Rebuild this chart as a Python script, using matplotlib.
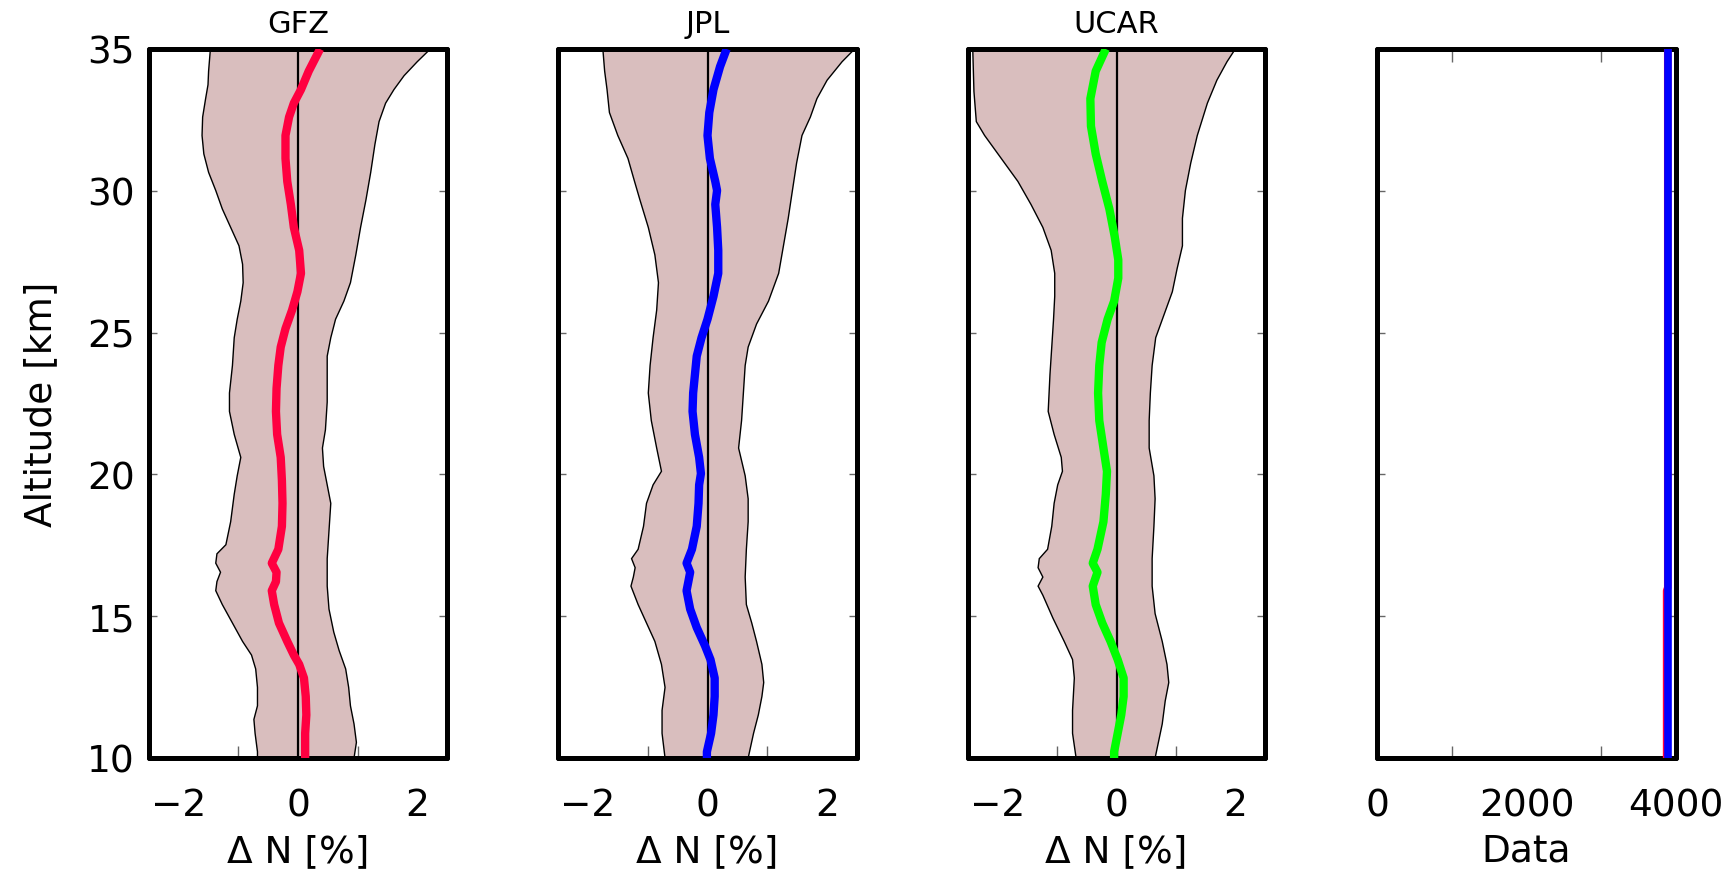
import matplotlib
matplotlib.use("Agg")
import matplotlib.pyplot as plt
import numpy as np

# ---------------- data ----------------
centers = ["GFZ", "JPL", "UCAR"]
line_colors = ["#FF0040", "#0000FF", "#00FF00"]

gfz_mean_alt = [35.0, 34.22, 33.57, 33.09, 32.60, 31.95, 31.14, 30.33, 29.52, 28.71, 27.90, 27.09, 26.44, 25.79,
                25.14, 24.49, 23.84, 23.03, 22.22, 21.41, 20.60, 19.79, 18.98, 18.17, 17.36, 16.87, 16.55, 16.22,
                15.90, 15.41, 14.76, 14.11, 13.63, 13.30, 12.82, 12.17, 11.52, 10.87, 10.22, 10.0]
gfz_mean = [0.37, 0.18, 0.05, -0.07, -0.15, -0.21, -0.21, -0.18, -0.12, -0.07, 0.02, 0.05, -0.01, -0.10,
            -0.21, -0.29, -0.33, -0.36, -0.37, -0.35, -0.29, -0.27, -0.26, -0.27, -0.33, -0.44, -0.36, -0.37,
            -0.44, -0.40, -0.32, -0.18, -0.07, 0.02, 0.10, 0.13, 0.14, 0.12, 0.12, 0.12]
gfz_low_alt = [35.0, 34.22, 33.74, 33.25, 32.60, 31.95, 31.30, 30.65, 30.01, 29.36, 28.71, 28.06, 27.41, 26.76,
               26.11, 25.47, 24.82, 23.84, 22.87, 22.22, 21.41, 20.60, 19.95, 19.30, 18.33, 17.52, 17.20, 16.87,
               16.55, 16.22, 15.90, 15.41, 14.76, 14.11, 13.63, 13.14, 12.49, 11.84, 11.36, 10.87, 10.22, 10.0]
gfz_low = [-1.47, -1.50, -1.51, -1.55, -1.60, -1.61, -1.58, -1.50, -1.38, -1.27, -1.13, -0.99, -0.93, -0.92,
           -0.96, -1.02, -1.07, -1.10, -1.15, -1.15, -1.07, -0.96, -1.02, -1.07, -1.13, -1.21, -1.36, -1.38,
           -1.30, -1.36, -1.38, -1.27, -1.10, -0.93, -0.78, -0.71, -0.68, -0.68, -0.74, -0.72, -0.68, -0.68]
gfz_up_alt = [35.0, 34.55, 34.06, 33.57, 33.09, 32.44, 31.63, 30.65, 29.68, 28.71, 27.74, 26.76, 26.11, 25.47,
              24.82, 24.17, 23.52, 22.55, 21.57, 20.93, 20.28, 19.63, 18.98, 18.01, 17.03, 16.06, 15.25, 14.44,
              13.79, 13.14, 12.49, 11.84, 11.20, 10.55, 10.0]
gfz_up = [2.22, 2.00, 1.78, 1.61, 1.47, 1.36, 1.29, 1.22, 1.14, 1.05, 0.97, 0.88, 0.77, 0.63,
          0.55, 0.49, 0.49, 0.49, 0.46, 0.41, 0.43, 0.49, 0.55, 0.52, 0.49, 0.49, 0.52, 0.60,
          0.69, 0.80, 0.85, 0.88, 0.94, 0.98, 0.94]

jpl_mean_alt = [35.0, 34.38, 33.57, 32.76, 31.95, 31.14, 30.33, 30.01, 29.52, 28.71, 27.90, 27.09, 26.28, 25.47,
                24.82, 24.17, 23.52, 22.87, 22.22, 21.41, 20.60, 20.03, 19.63, 18.98, 18.17, 17.36, 16.87, 16.55,
                16.22, 15.90, 15.25, 14.60, 13.95, 13.47, 12.82, 12.17, 11.52, 10.87, 10.22, 10.0]
jpl_mean = [0.32, 0.21, 0.10, 0.03, 0.0, 0.04, 0.13, 0.16, 0.13, 0.16, 0.18, 0.18, 0.10, 0.0,
            -0.10, -0.18, -0.21, -0.24, -0.25, -0.21, -0.14, -0.11, -0.14, -0.15, -0.18, -0.26, -0.35, -0.29,
            -0.32, -0.35, -0.29, -0.18, -0.04, 0.05, 0.12, 0.12, 0.10, 0.06, -0.01, -0.01]
jpl_low_alt = [35.0, 34.22, 33.57, 32.76, 31.95, 31.14, 30.33, 29.68, 28.71, 27.74, 26.76, 25.79, 24.82, 23.84,
               22.87, 21.90, 20.93, 20.11, 19.63, 18.98, 18.17, 17.36, 17.03, 16.71, 16.38, 16.06, 15.41, 14.76,
               14.11, 13.30, 12.49, 11.68, 10.87, 10.0]
jpl_low = [-1.75, -1.72, -1.68, -1.64, -1.50, -1.33, -1.22, -1.13, -0.99, -0.88, -0.82, -0.85, -0.91, -0.96,
           -0.99, -0.94, -0.85, -0.77, -0.91, -1.02, -1.07, -1.16, -1.27, -1.21, -1.24, -1.28, -1.16, -1.02,
           -0.88, -0.77, -0.71, -0.76, -0.76, -0.71]
jpl_up_alt = [35.0, 34.55, 33.90, 33.25, 32.60, 31.95, 30.98, 30.01, 29.03, 28.06, 27.09, 26.11, 25.30, 24.49,
              23.84, 22.87, 21.90, 20.93, 19.95, 19.14, 18.33, 17.36, 16.38, 15.41, 14.76, 14.11, 13.30, 12.66,
              12.17, 11.52, 10.87, 10.0]
jpl_up = [2.46, 2.25, 2.00, 1.83, 1.72, 1.58, 1.49, 1.42, 1.35, 1.27, 1.19, 1.02, 0.82, 0.68,
          0.63, 0.60, 0.57, 0.52, 0.63, 0.68, 0.68, 0.65, 0.63, 0.65, 0.74, 0.82, 0.91, 0.94,
          0.91, 0.85, 0.77, 0.68]

ucar_mean_alt = [35.0, 34.22, 33.25, 32.28, 31.30, 30.33, 29.36, 28.38, 27.57, 26.92, 26.11, 25.47, 24.65, 23.84,
                 22.87, 21.90, 20.93, 20.11, 19.30, 18.33, 17.36, 16.87, 16.55, 16.06, 15.41, 14.76, 14.11, 13.47,
                 12.82, 12.17, 11.52, 10.87, 10.22, 10.0]
ucar_mean = [-0.18, -0.35, -0.44, -0.43, -0.35, -0.24, -0.12, -0.03, 0.03, 0.03, -0.04, -0.15, -0.25, -0.29,
             -0.31, -0.29, -0.22, -0.16, -0.18, -0.22, -0.32, -0.40, -0.32, -0.40, -0.35, -0.24, -0.10, 0.02,
             0.12, 0.12, 0.08, 0.02, -0.04, -0.04]
ucar_low_alt = [35.0, 33.5, 32.44, 31.95, 31.14, 30.33, 29.52, 28.71, 27.90, 27.09, 26.28, 25.47, 24.49, 23.52,
                22.22, 21.41, 20.60, 20.11, 19.63, 18.98, 18.17, 17.36, 17.03, 16.71, 16.38, 16.06, 15.74, 14.93,
                14.11, 13.47, 12.82, 11.68, 10.87, 10.0]
ucar_low = [-2.42, -2.40, -2.36, -2.22, -1.94, -1.66, -1.44, -1.24, -1.10, -1.04, -1.04, -1.06, -1.09, -1.12,
            -1.15, -1.05, -0.93, -0.91, -0.99, -1.05, -1.09, -1.16, -1.30, -1.32, -1.24, -1.32, -1.24, -1.07,
            -0.88, -0.74, -0.71, -0.74, -0.74, -0.68]
ucar_up_alt = [35.0, 34.55, 33.90, 33.09, 31.95, 30.98, 30.01, 29.03, 28.06, 27.25, 26.44, 25.63, 24.82, 23.84,
               22.87, 21.90, 20.93, 19.95, 19.14, 18.17, 17.03, 16.06, 15.09, 14.11, 13.30, 12.66, 12.01, 11.20, 10.0]
ucar_up = [2.00, 1.86, 1.69, 1.53, 1.36, 1.25, 1.16, 1.11, 1.11, 1.02, 0.94, 0.80, 0.66, 0.60,
           0.57, 0.55, 0.55, 0.63, 0.65, 0.63, 0.60, 0.60, 0.65, 0.77, 0.85, 0.88, 0.82, 0.77, 0.65]

# number of data per altitude (4th panel)
count_gfz_alt = [10.0, 15.9, 16.0, 35.0]
count_gfz = [3875, 3875, 3890, 3890]
count_jpl_alt = [10.0, 35.0]
count_jpl = [3890, 3890]

x_ticklabels = ["\u22122", "0", "2"]
y_ticks = [10, 15, 20, 25, 30, 35]

profiles = [
    (gfz_mean_alt, gfz_mean, gfz_low_alt, gfz_low, gfz_up_alt, gfz_up),
    (jpl_mean_alt, jpl_mean, jpl_low_alt, jpl_low, jpl_up_alt, jpl_up),
    (ucar_mean_alt, ucar_mean, ucar_low_alt, ucar_low, ucar_up_alt, ucar_up),
]

# ---------------- style ----------------
plt.rcParams['font.family'] = ['DejaVu Sans']
FILL = "#D9BEBE"
TICKFS = 27
LABFS = 27
TITLEFS = 22

fig = plt.figure(figsize=(17.35, 8.78), dpi=100)
lefts = [149, 558, 968, 1377]
widths = [298, 299, 297, 299]
bottom = (878 - 759) / 878
height = 709 / 878


def style_axes(ax):
    ax.set_axisbelow(True)
    for s in ax.spines.values():
        s.set_linewidth(3.6)
        s.set_capstyle("round")
    ax.tick_params(axis="both", which="both", direction="in", top=True, right=True,
                   color="#666666", width=1.0, labelsize=TICKFS)
    ax.tick_params(axis="x", which="major", length=0, pad=21)
    ax.tick_params(axis="x", which="minor", length=9)
    ax.tick_params(axis="y", which="major", length=6, pad=10)


for i in range(4):
    ax = fig.add_axes([lefts[i] / 1735, bottom, widths[i] / 1735, height])
    style_axes(ax)
    ax.set_ylim(10, 35)
    ax.set_yticks(y_ticks)
    if i < 3:
        ma, m, la, lo, ua, up = profiles[i]
        poly_x = list(lo) + list(up)[::-1]
        poly_y = list(la) + list(ua)[::-1]
        ax.fill(poly_x, poly_y, facecolor=FILL, edgecolor="black", linewidth=1.0, zorder=1)
        ax.axvline(0, color="black", lw=1.6, zorder=2)
        ax.plot(m, ma, color=line_colors[i], lw=6, zorder=3, solid_capstyle="butt")
        ax.set_xlim(-2.5, 2.5)
        ax.set_xticks([-2, 0, 2])
        ax.set_xticklabels(x_ticklabels)
        ax.set_xticks([-2, -1, 1, 2], minor=True)
        ax.set_title(centers[i], fontsize=TITLEFS, pad=12)
        ax.set_xlabel("\u0394 N [%]", fontsize=LABFS, labelpad=7)
    else:
        ax.plot(count_gfz, count_gfz_alt, color=line_colors[0], lw=5.5, zorder=3)
        ax.plot(count_jpl, count_jpl_alt, color=line_colors[1], lw=5.5, zorder=4)
        ax.set_xlim(0, 4000)
        ax.set_xticks([0, 2000, 4000])
        ax.set_xticks([1000, 2000, 3000], minor=True)
        ax.set_xlabel("Data", fontsize=LABFS, labelpad=7)
    if i == 0:
        ax.set_yticklabels([str(v) for v in y_ticks])
        ax.set_ylabel("Altitude [km]", fontsize=LABFS, labelpad=20)
    else:
        ax.set_yticklabels([])

fig.savefig("out.png", dpi=100)
